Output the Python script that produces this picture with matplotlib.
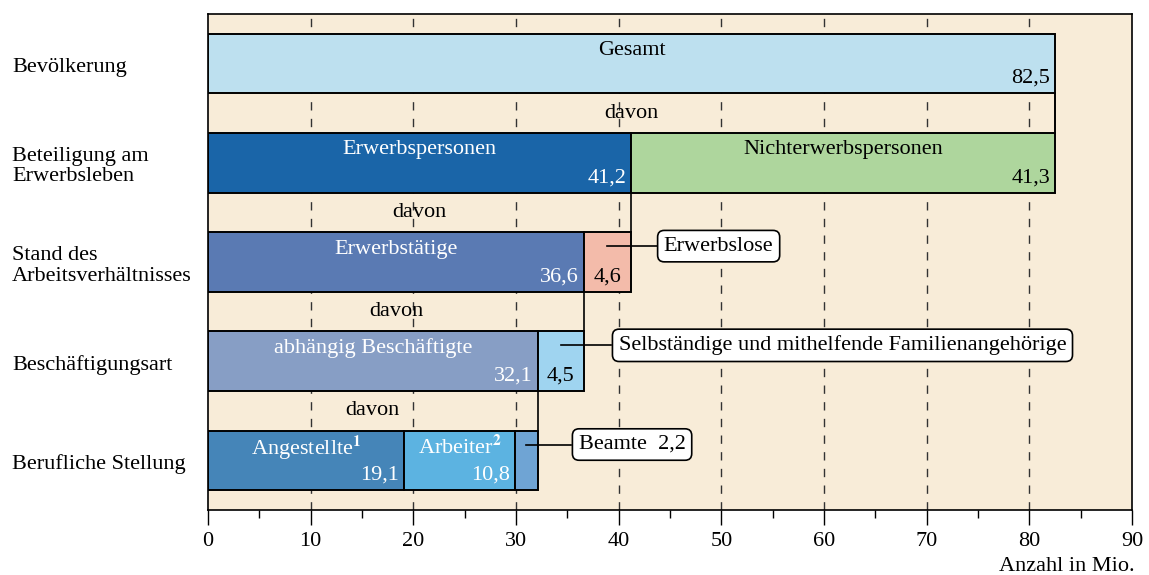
import matplotlib

matplotlib.use("Agg")
import matplotlib.pyplot as plt
from matplotlib.transforms import blended_transform_factory

plt.rcParams["font.family"] = ["Liberation Serif", "DejaVu Serif"]
plt.rcParams["mathtext.fontset"] = "stix"

# rows, top to bottom
row_labels = [
    "Bevölkerung",
    "Beteiligung am\nErwerbsleben",
    "Stand des\nArbeitsverhältnisses",
    "Beschäftigungsart",
    "Berufliche Stellung",
]

# segment names and values per row
row0_names = ["Gesamt"]
row0_values = [82.5]
row1_names = ["Erwerbspersonen", "Nichterwerbspersonen"]
row1_values = [41.2, 41.3]
row2_names = ["Erwerbstätige", ""]
row2_values = [36.6, 4.6]
row3_names = ["abhängig Beschäftigte", ""]
row3_values = [32.1, 4.5]
row4_names = [r"Angestellte$^{\mathbf{1}}$", r"Arbeiter$^{\mathbf{2}}$", ""]
row4_values = [19.1, 10.8, 2.2]

value_labels = {
    0: ["82,5"],
    1: ["41,2", "41,3"],
    2: ["36,6", "4,6"],
    3: ["32,1", "4,5"],
    4: ["19,1", "10,8", ""],
}

colors = {
    0: ["#bde0ef"],
    1: ["#1a65a8", "#aed69d"],
    2: ["#5a7ab3", "#f3bbaa"],
    3: ["#879ec5", "#9fd4f0"],
    4: ["#4585b8", "#5cb3e1", "#6fa4d4"],
}
text_colors = {
    0: ["black"],
    1: ["white", "black"],
    2: ["white", "black"],
    3: ["white", "black"],
    4: ["white", "white", "black"],
}

# callout boxes: (row, segment index, text, box left x)
callouts = [
    (2, 1, "Erwerbslose", 43.7),
    (3, 1, "Selbständige und mithelfende Familienangehörige", 39.3),
    (4, 2, "Beamte  2,2", 35.4),
]

BG = "#f8ecd8"
FS = 16
BAR_H = 0.6

width_px, height_px = 1149, 575
dpi = 100
fig = plt.figure(figsize=(width_px / dpi, height_px / dpi), dpi=dpi)
ax = fig.add_axes([208 / width_px, 1 - 510 / height_px, (1132 - 208) / width_px, (510 - 14) / height_px])
ax.set_facecolor(BG)

all_names = [row0_names, row1_names, row2_names, row3_names, row4_names]
all_values = [row0_values, row1_values, row2_values, row3_values, row4_values]

for x in range(10, 90, 10):
    ax.axvline(x, color="#333333", linewidth=1.0, linestyle=(0, (6, 6)), zorder=1)

seg_bounds = {}
for r, (names, vals) in enumerate(zip(all_names, all_values)):
    left = 0.0
    seg_bounds[r] = []
    for i, (name, v) in enumerate(zip(names, vals)):
        ax.barh(r, v, left=left, height=BAR_H, color=colors[r][i], edgecolor="black",
                linewidth=1.4, zorder=3)
        tc = text_colors[r][i]
        if name:
            ax.text(left + v / 2, r - 0.13, name, ha="center", va="center", fontsize=FS,
                    color=tc, zorder=4)
        lab = value_labels[r][i]
        if lab:
            if name:
                ax.text(left + v - 0.45, r + 0.15, lab, ha="right", va="center",
                        fontsize=FS, color=tc, zorder=4)
            else:
                ax.text(left + v / 2, r + 0.15, lab, ha="center", va="center",
                        fontsize=FS, color=tc, zorder=4)
        seg_bounds[r].append((left, left + v))
        left += v

# "davon" labels and connector lines between rows
for r in range(4):
    total = sum(all_values[r + 1])
    ax.text(total / 2, r + 0.5, "davon", ha="center", va="center", fontsize=FS, zorder=4)
    ax.plot([total, total], [r + BAR_H / 2, r + 1 - BAR_H / 2], color="black",
            linewidth=1.2, zorder=2)
ax.plot([82.5, 82.5], [BAR_H / 2, 1 - BAR_H / 2], color="black", linewidth=1.2, zorder=2)

# callouts
for r, i, txt, bx in callouts:
    a, b = seg_bounds[r][i]
    y = r - 0.16
    ax.plot([(a + b) / 2, bx], [y, y], color="black", linewidth=1.2, zorder=5)
    ax.text(bx + 0.7, y, txt, ha="left", va="center", fontsize=FS, zorder=6,
            bbox=dict(boxstyle="round,pad=0.28,rounding_size=0.3", facecolor="white",
                      edgecolor="black", linewidth=1.2))

# row labels
trans = blended_transform_factory(fig.transFigure, ax.transData)
for r, lab in enumerate(row_labels):
    ax.text(12 / width_px, r + 0.04, lab, ha="left", va="center", fontsize=FS,
            transform=trans, linespacing=1.1)

ax.set_xlim(0, 90)
ax.set_ylim(4.5, -0.5)
ax.set_yticks([])
ax.set_xticks(range(0, 91, 10))
ax.set_xticks(range(5, 90, 10), minor=True)
ax.tick_params(axis="x", which="major", length=11, width=1.0, labelsize=FS, direction="out", pad=5)
ax.tick_params(axis="x", which="minor", length=6, width=1.0, direction="out")
for s in ax.spines.values():
    s.set_linewidth(1.2)

fig.text(1135 / width_px, 1 - 571 / height_px, "Anzahl in Mio.", ha="right", va="baseline",
         fontsize=FS)

fig.savefig("out.png", dpi=dpi)
plt.close(fig)
